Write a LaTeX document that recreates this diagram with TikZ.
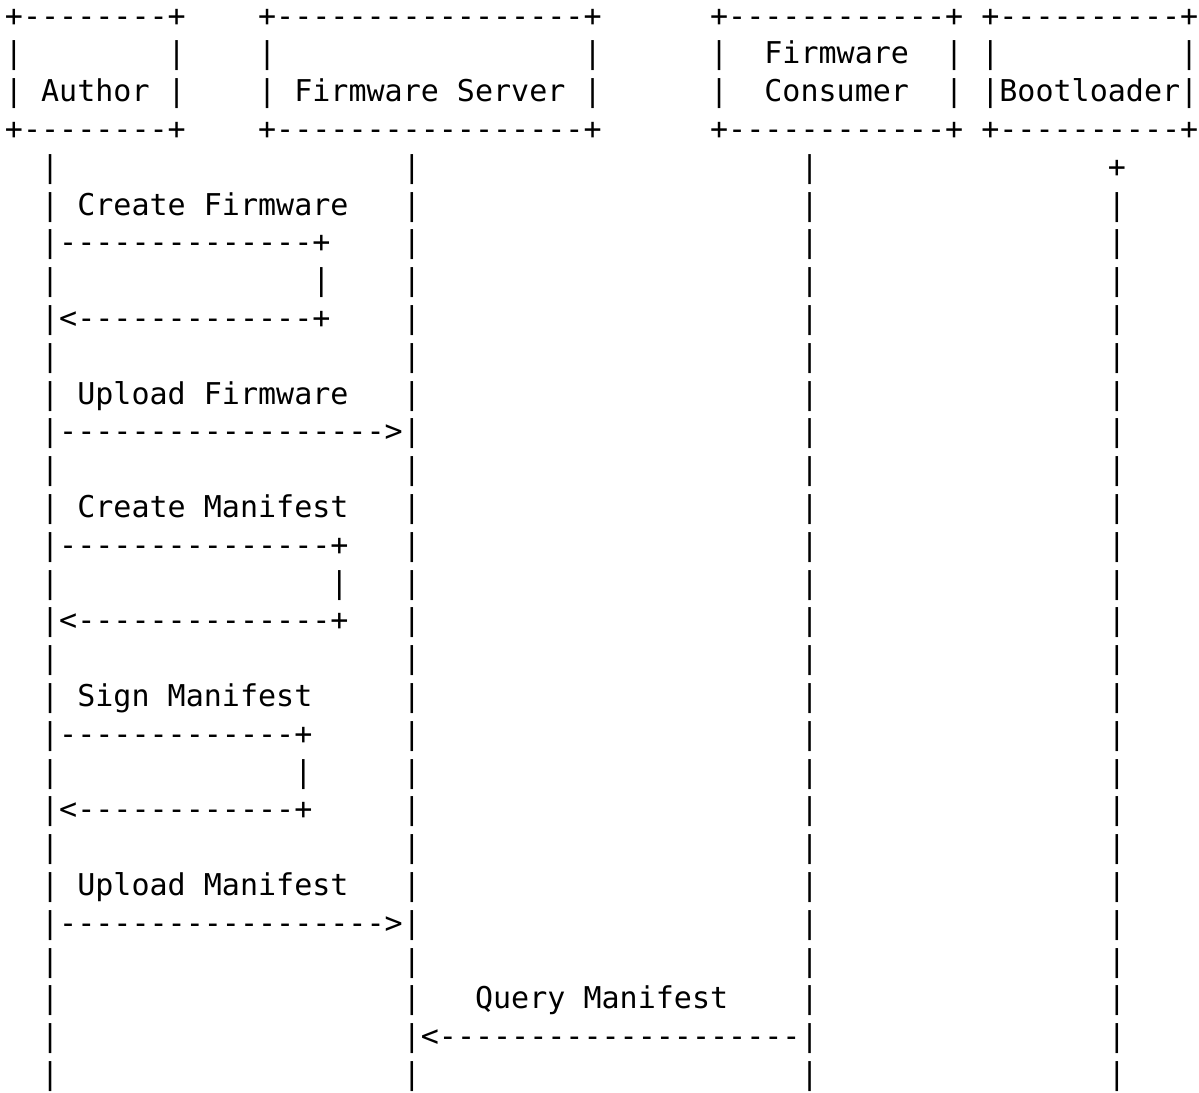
\documentclass[tikz,border=0pt]{standalone}
\usepackage{fontspec}
\setmonofont{DejaVu Sans Mono}
\tikzset{
  ascii/.style={anchor=base west, inner sep=0pt, outer sep=0pt, text=black,
    font=\ttfamily\fontsize{30.03pt}{37.8pt}\selectfont}
}
% one text segment at a given row and column of the character grid
\newcommand\seg[3]{\node[ascii] (r#1c#2) at ({5pt+#2*18.08pt},{-26pt-#1*37.8pt}) {#3};}
\begin{document}
\begin{tikzpicture}
\useasboundingbox (0,0) rectangle (1199pt,-1092pt);
% header boxes
\foreach \r in {0,3} {
  \seg{\r}{0}{+--------+}
  \seg{\r}{14}{+-----------------+}
  \seg{\r}{39}{+------------+}
  \seg{\r}{54}{+----------+}
}
\foreach \c in {0,9,14,32,39,52,54,65} {
  \seg{1}{\c}{|}
}
\foreach \c in {0,9,14,32,39,52} {
  \seg{2}{\c}{|}
}
\seg{1}{42}{Firmware}
\seg{2}{2}{Author}
\seg{2}{16}{Firmware Server}
\seg{2}{42}{Consumer}
\seg{2}{54}{|Bootloader|}
% lifelines
\foreach \r in {4,...,28} {
  \seg{\r}{2}{|}
  \seg{\r}{22}{|}
  \seg{\r}{44}{|}
}
\seg{4}{61}{+}
\foreach \r in {5,...,28} {
  \seg{\r}{61}{|}
}
% messages
\seg{5}{4}{Create Firmware}
\seg{6}{3}{--------------+}
\seg{7}{17}{|}
\seg{8}{3}{<-------------+}
\seg{10}{4}{Upload Firmware}
\seg{11}{3}{------------------>}
\seg{13}{4}{Create Manifest}
\seg{14}{3}{---------------+}
\seg{15}{18}{|}
\seg{16}{3}{<--------------+}
\seg{18}{4}{Sign Manifest}
\seg{19}{3}{-------------+}
\seg{20}{16}{|}
\seg{21}{3}{<------------+}
\seg{23}{4}{Upload Manifest}
\seg{24}{3}{------------------>}
\seg{26}{26}{Query Manifest}
\seg{27}{23}{<--------------------}
\end{tikzpicture}
\end{document}
